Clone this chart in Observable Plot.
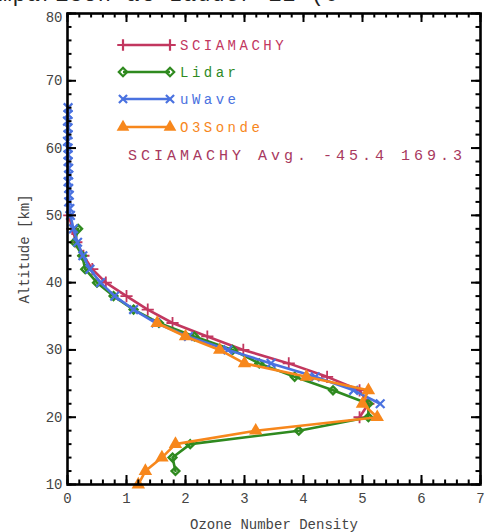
<!DOCTYPE html>
<html>
<head>
<meta charset="utf-8">
<script src="https://cdn.jsdelivr.net/npm/d3@7"></script>
<script src="https://cdn.jsdelivr.net/npm/@observablehq/plot@0.6"></script>
<style>
  html, body { margin: 0; padding: 0; background: #fff; }
  #wrap { position: relative; width: 489px; height: 532px; overflow: hidden; }
  #title { position: absolute; left: -30px; top: -13px; font: 22px/18px "Liberation Mono", monospace; color: #222; white-space: nowrap; letter-spacing: 1px; }
</style>
</head>
<body>
<div id="wrap">
  <div id="chart"></div>
  <div id="title">Comparison at Lauder 12 (0</div>
</div>
<script>
// Ozone number density profiles (altitude in km, density in model units)
const sciaAlt  = [50, 48, 46, 44, 42, 40, 38, 36, 34, 32, 30, 28, 26, 24, 22, 20];
const sciaDens = [0.03, 0.08, 0.15, 0.27, 0.42, 0.65, 1.0, 1.36, 1.78, 2.37, 2.98, 3.75, 4.4, 4.95, 5.1, 4.95];

const lidarAlt  = [48, 46, 44, 42, 40, 38, 36, 34, 32, 30, 28, 26, 24, 22, 20, 18, 16, 14, 12];
const lidarDens = [0.18, 0.12, 0.25, 0.3, 0.5, 0.78, 1.12, 1.55, 2.15, 2.8, 3.25, 3.85, 4.5, 5.1, 5.1, 3.92, 2.08, 1.78, 1.83];

const uwaveAlt  = [66, 65, 64, 63, 62, 61, 60, 59, 58, 57, 56, 55, 54, 53, 52, 51, 50, 48, 46, 44, 42, 40, 38, 36, 34, 32, 30, 28, 26, 24, 22];
const uwaveDens = [0.01, 0.01, 0.0, 0.01, 0.01, 0.0, 0.01, 0.01, 0.01, 0.02, 0.02, 0.01, 0.02, 0.03, 0.02, 0.04, 0.05, 0.1, 0.17, 0.26, 0.38, 0.56, 0.8, 1.12, 1.5, 2.05, 2.72, 3.45, 4.2, 4.85, 5.3];

const sondeAlt  = [10, 12, 14, 16, 18, 20, 22, 24, 26, 28, 30, 32, 34];
const sondeDens = [1.2, 1.32, 1.6, 1.83, 3.19, 5.25, 5.0, 5.1, 4.05, 3.0, 2.58, 2.0, 1.52];

const seriesNames  = ["SCIAMACHY", "Lidar", "uWave", "O3Sonde"];
const seriesColors = ["#c2375f", "#2f8a1f", "#4a72e0", "#f7871c"];
const avgLabel = "SCIAMACHY Avg. -45.4 169.3";

const xTicks = d3.range(0, 8);
const xMinor = d3.range(0, 7.001, 0.2);
const yTicks = d3.range(10, 81, 10);
const yMinor = d3.range(10, 81, 2);

const rows = (alt, dens) => alt.map((a, i) => ({alt: a, dens: dens[i]}));
const scia  = rows(sciaAlt, sciaDens);
const lidar = rows(lidarAlt, lidarDens);
const uwave = rows(uwaveAlt, uwaveDens);
const sonde = rows(sondeAlt, sondeDens);

const W = 489, H = 532, mL = 67, mR = 9, mT = 13, mB = 48;
const fw = W - mL - mR, fh = H - mT - mB;

const line = (data, color) => Plot.line(data, {x: "dens", y: "alt", stroke: color, strokeWidth: 2.6});
const yAxisOpts = {tickSize: 0, tickPadding: 5, tickFormat: d3.format("d"), fill: "#444"};

const chart = Plot.plot({
  width: W, height: H,
  marginLeft: mL, marginRight: mR, marginTop: mT, marginBottom: mB,
  style: {fontFamily: "'Liberation Mono', monospace", fontSize: "14px", color: "#333", background: "#fff"},
  x: {domain: [0, 7]},
  y: {domain: [10, 80]},
  marks: [
    line(scia, seriesColors[0]),
    Plot.dot(scia, {x: "dens", y: "alt", symbol: "plus", stroke: seriesColors[0], r: 4, strokeWidth: 1.8}),
    line(lidar, seriesColors[1]),
    Plot.dot(lidar, {x: "dens", y: "alt", symbol: "diamond2", stroke: seriesColors[1], r: 3.5, strokeWidth: 2.4}),
    line(uwave, seriesColors[2]),
    Plot.dot(uwave, {x: "dens", y: "alt", symbol: "times", stroke: seriesColors[2], r: 4, strokeWidth: 2.2}),
    line(sonde, seriesColors[3]),
    Plot.dot(sonde, {x: "dens", y: "alt", symbol: "triangle", fill: seriesColors[3], r: 5}),
    // inward major and minor ticks on all four sides
    Plot.tickX(xTicks, {x: d => d, insetTop: fh - 9, stroke: "black", strokeWidth: 2}),
    Plot.tickX(xTicks, {x: d => d, insetBottom: fh - 9, stroke: "black", strokeWidth: 2}),
    Plot.tickX(xMinor, {x: d => d, insetTop: fh - 4.5, stroke: "black", strokeWidth: 2}),
    Plot.tickX(xMinor, {x: d => d, insetBottom: fh - 4.5, stroke: "black", strokeWidth: 2}),
    Plot.tickY(yTicks, {y: d => d, insetRight: fw - 9, stroke: "black", strokeWidth: 2}),
    Plot.tickY(yTicks, {y: d => d, insetLeft: fw - 9, stroke: "black", strokeWidth: 2}),
    Plot.tickY(yMinor, {y: d => d, insetRight: fw - 4.5, stroke: "black", strokeWidth: 2}),
    Plot.tickY(yMinor, {y: d => d, insetLeft: fw - 4.5, stroke: "black", strokeWidth: 2}),
    Plot.frame({stroke: "black", strokeWidth: 2.6}),
    Plot.axisX({ticks: xTicks, tickSize: 0, tickPadding: 9, tickFormat: d3.format("d"), label: "Ozone Number Density",
      labelAnchor: "center", labelArrow: "none", labelOffset: 44, fill: "#444"}),
    Plot.axisY({...yAxisOpts, ticks: yTicks.slice(0, -1), label: "Altitude [km]",
      labelAnchor: "center", labelArrow: "none", labelOffset: 48}),
    // top label sits a little below its tick, clear of the heading
    Plot.axisY({...yAxisOpts, ticks: yTicks.slice(-1), label: null, dy: 4})
  ]
});
document.getElementById("chart").appendChild(chart);

// Legend drawn inside the plotting frame, top-left
const svg = d3.select(chart);
const lg = svg.append("g").attr("font-family", "'Liberation Mono', monospace").attr("text-anchor", "start");
const rowY = [45, 72, 99, 127];
const symbols = [d3.symbolPlus, d3.symbolDiamond2, d3.symbolTimes, d3.symbolTriangle];
seriesNames.forEach((name, i) => {
  const y = rowY[i], c = seriesColors[i];
  lg.append("line").attr("x1", 123).attr("x2", 170).attr("y1", y).attr("y2", y)
    .attr("stroke", c).attr("stroke-width", 2.6);
  [123, 170].forEach(x => {
    const filled = i === 3;
    lg.append("path").attr("transform", `translate(${x},${y})`)
      .attr("d", d3.symbol(symbols[i], filled ? 70 : 45)())
      .attr("fill", filled ? c : "none").attr("stroke", filled ? "none" : c).attr("stroke-width", 2.2);
  });
  lg.append("text").attr("x", 180).attr("y", y + 5).attr("fill", c).attr("font-size", 14)
    .attr("letter-spacing", 3.5).text(name);
});
lg.append("text").attr("x", 128).attr("y", 160).attr("fill", "#a8385e").attr("font-size", 15)
  .attr("letter-spacing", 4).text(avgLabel);
</script>
</body>
</html>
